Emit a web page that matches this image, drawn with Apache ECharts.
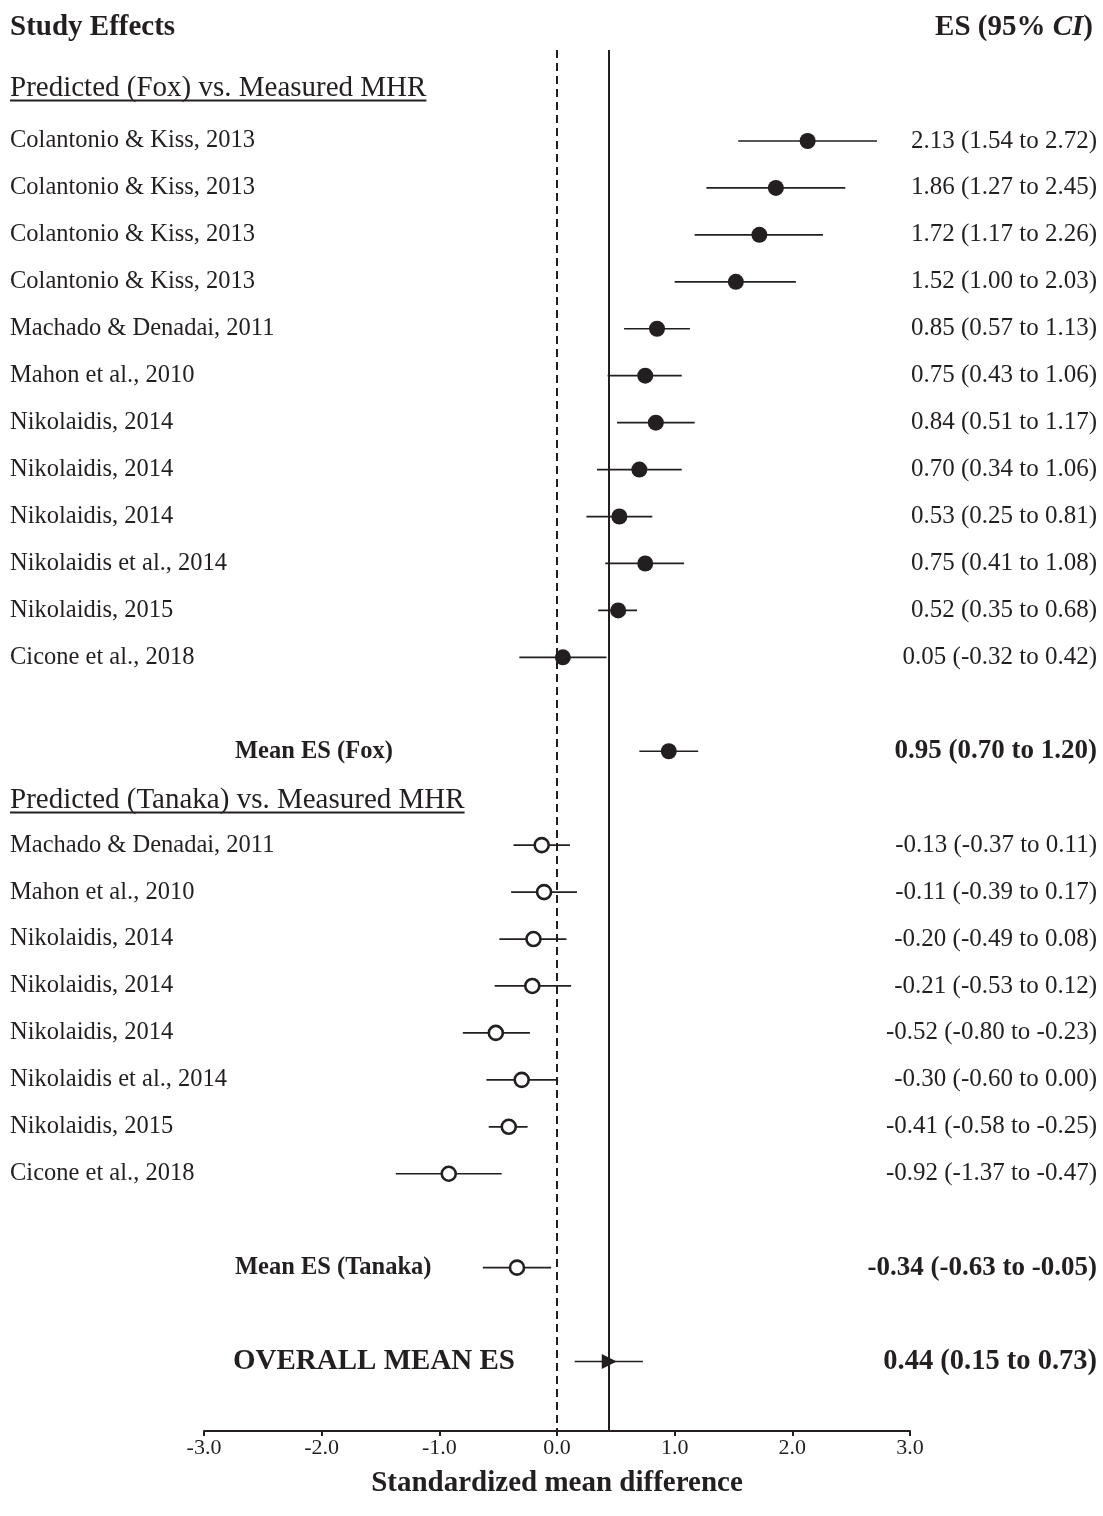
<!DOCTYPE html>
<html><head><meta charset="utf-8">
<script src="https://cdn.jsdelivr.net/npm/echarts@6/dist/echarts.min.js"></script>
<style>html,body{margin:0;padding:0;background:#fff}#c{width:1103px;height:1516px}</style>
</head><body><div id="c"></div>
<script>
// ---------- data ----------
const foxStudies = ['Colantonio & Kiss, 2013','Colantonio & Kiss, 2013','Colantonio & Kiss, 2013','Colantonio & Kiss, 2013','Machado & Denadai, 2011','Mahon et al., 2010','Nikolaidis, 2014','Nikolaidis, 2014','Nikolaidis, 2014','Nikolaidis et al., 2014','Nikolaidis, 2015','Cicone et al., 2018'];
const foxES = [2.13,1.86,1.72,1.52,0.85,0.75,0.84,0.70,0.53,0.75,0.52,0.05];
const foxLo = [1.54,1.27,1.17,1.00,0.57,0.43,0.51,0.34,0.25,0.41,0.35,-0.32];
const foxHi = [2.72,2.45,2.26,2.03,1.13,1.06,1.17,1.06,0.81,1.08,0.68,0.42];

const tanakaStudies = ['Machado & Denadai, 2011','Mahon et al., 2010','Nikolaidis, 2014','Nikolaidis, 2014','Nikolaidis, 2014','Nikolaidis et al., 2014','Nikolaidis, 2015','Cicone et al., 2018'];
const tanakaES = [-0.13,-0.11,-0.20,-0.21,-0.52,-0.30,-0.41,-0.92];
const tanakaLo = [-0.37,-0.39,-0.49,-0.53,-0.80,-0.60,-0.58,-1.37];
const tanakaHi = [0.11,0.17,0.08,0.12,-0.23,0.00,-0.25,-0.47];

const meanFox = [0.95,0.70,1.20];
const meanTanaka = [-0.34,-0.63,-0.05];
const overallMean = [0.44,0.15,0.73];

const groupHeaders = ['Predicted (Fox) vs. Measured MHR','Predicted (Tanaka) vs. Measured MHR'];
const summaryLabels = ['Mean ES (Fox)','Mean ES (Tanaka)','OVERALL MEAN ES'];
const xTickValues = [-3,-2,-1,0,1,2,3];

// ---------- layout ----------
const ink = '#231f20';
const serif = '"Liberation Serif","Times New Roman",serif';
const fmt = v => v.toFixed(2);
const ciText = (e,l,h) => `${fmt(e)} (${fmt(l)} to ${fmt(h)})`;

// rows: [es, lo, hi, row, kind]  kind 0 = filled, 1 = open, 2 = summary filled, 3 = summary open, 4 = overall
const rows = [];
const leftText = [], rightText = [];
foxES.forEach((e,i)=>{rows.push([e,foxLo[i],foxHi[i],i,0]); leftText.push(foxStudies[i]); rightText.push(ciText(e,foxLo[i],foxHi[i]));});
rows.push([meanFox[0],meanFox[1],meanFox[2],13,2]); leftText.push(summaryLabels[0]); rightText.push(ciText(...meanFox));
tanakaES.forEach((e,i)=>{rows.push([e,tanakaLo[i],tanakaHi[i],15+i,1]); leftText.push(tanakaStudies[i]); rightText.push(ciText(e,tanakaLo[i],tanakaHi[i]));});
rows.push([meanTanaka[0],meanTanaka[1],meanTanaka[2],24,3]); leftText.push(summaryLabels[1]); rightText.push(ciText(...meanTanaka));
rows.push([overallMean[0],overallMean[1],overallMean[2],26,4]); leftText.push(summaryLabels[2]); rightText.push(ciText(...overallMean));

const headerRows = [[0,-1.12],[0,14.05]];

const measureCtx = document.createElement('canvas').getContext('2d');
function textWidth(t,font){measureCtx.font=font;return measureCtx.measureText(t).width;}

function renderMark(params, api){
  const es=api.value(0), lo=api.value(1), hi=api.value(2), row=api.value(3), kind=api.value(4);
  const p=api.coord([es,row]), a=api.coord([lo,row]), b=api.coord([hi,row]);
  const ch=[{type:'line',shape:{x1:a[0],y1:a[1],x2:b[0],y2:b[1]},style:{stroke:ink,lineWidth:1.7}}];
  if(kind===0||kind===2){
    ch.push({type:'circle',shape:{cx:p[0],cy:p[1],r:8},style:{fill:ink}});
  } else if(kind===1||kind===3){
    ch.push({type:'circle',shape:{cx:p[0],cy:p[1],r:7},style:{fill:'#fff',stroke:ink,lineWidth:2.6}});
  } else {
    ch.push({type:'polygon',shape:{points:[[p[0]-7,p[1]-7.5],[p[0]+8,p[1]],[p[0]-7,p[1]+7.5]]},style:{fill:ink}});
  }
  // texts
  const i=params.dataIndex;
  let lf, rf, lx=10;
  if(kind===0||kind===1){lf='24.5px '+serif; rf='25px '+serif;}
  else if(kind===4){lf='bold 29px '+serif; rf='bold 28.5px '+serif; lx=233;}
  else {lf='bold 24.5px '+serif; rf='bold 27px '+serif; lx=235;}
  ch.push({type:'text',x:lx,y:p[1],style:{text:leftText[i],font:lf,fill:ink,textAlign:'left',textVerticalAlign:'middle'}});
  ch.push({type:'text',x:1097,y:p[1],style:{text:rightText[i],font:rf,fill:ink,textAlign:'right',textVerticalAlign:'middle'}});
  return {type:'group',children:ch};
}

function renderHeader(params, api){
  const p=api.coord([api.value(0),api.value(1)]);
  const t=groupHeaders[params.dataIndex];
  const font='29px '+serif;
  const w=textWidth(t,font);
  return {type:'group',children:[
    {type:'text',x:10,y:p[1],style:{text:t,font:font,fill:ink,textAlign:'left',textVerticalAlign:'middle'}},
    {type:'line',shape:{x1:10,y1:p[1]+12,x2:10+w,y2:p[1]+12},style:{stroke:ink,lineWidth:2}}
  ]};
}

const chart = echarts.init(document.getElementById('c'),null,{renderer:'canvas'});
chart.setOption({
  backgroundColor:'#fff',
  animation:false,
  grid:{left:204,right:193,top:50,bottom:85,containLabel:false},
  xAxis:{type:'value',min:-3,max:3,interval:1,
    axisLine:{show:true,onZero:false,lineStyle:{color:ink,width:2}},
    axisTick:{show:true,length:5,lineStyle:{color:ink,width:2}},
    axisLabel:{fontFamily:serif,fontSize:22,color:ink,margin:6,formatter:v=>v.toFixed(1)},
    splitLine:{show:false},
    name:'Standardized mean difference',nameLocation:'middle',nameGap:38,
    nameTextStyle:{fontFamily:serif,fontSize:29,fontWeight:'bold',color:ink,verticalAlign:'top'}
  },
  yAxis:{type:'value',inverse:true,min:-1.938,max:27.48,show:false},
  graphic:[
    {type:'text',left:10,top:13,style:{text:'Study Effects',font:'bold 29px '+serif,fill:ink}},
    {type:'text',right:10,top:13,style:{text:'{b|ES (95% }{i|CI}{b|)}',rich:{b:{font:'bold 29px '+serif,fill:ink},i:{font:'italic bold 29px '+serif,fill:ink}}}}
  ],
  series:[
    {type:'custom',renderItem:renderMark,data:rows,encode:{x:[0,1,2],y:3},clip:false,z:5,
      markLine:{silent:true,symbol:'none',label:{show:false},
        data:[
          {xAxis:0,lineStyle:{type:[8,5],color:ink,width:2}},
          {xAxis:overallMean[0],lineStyle:{type:'solid',color:ink,width:2}}
        ]}
    },
    {type:'custom',renderItem:renderHeader,data:headerRows,encode:{x:0,y:1},clip:false}
  ]
});
</script></body></html>
